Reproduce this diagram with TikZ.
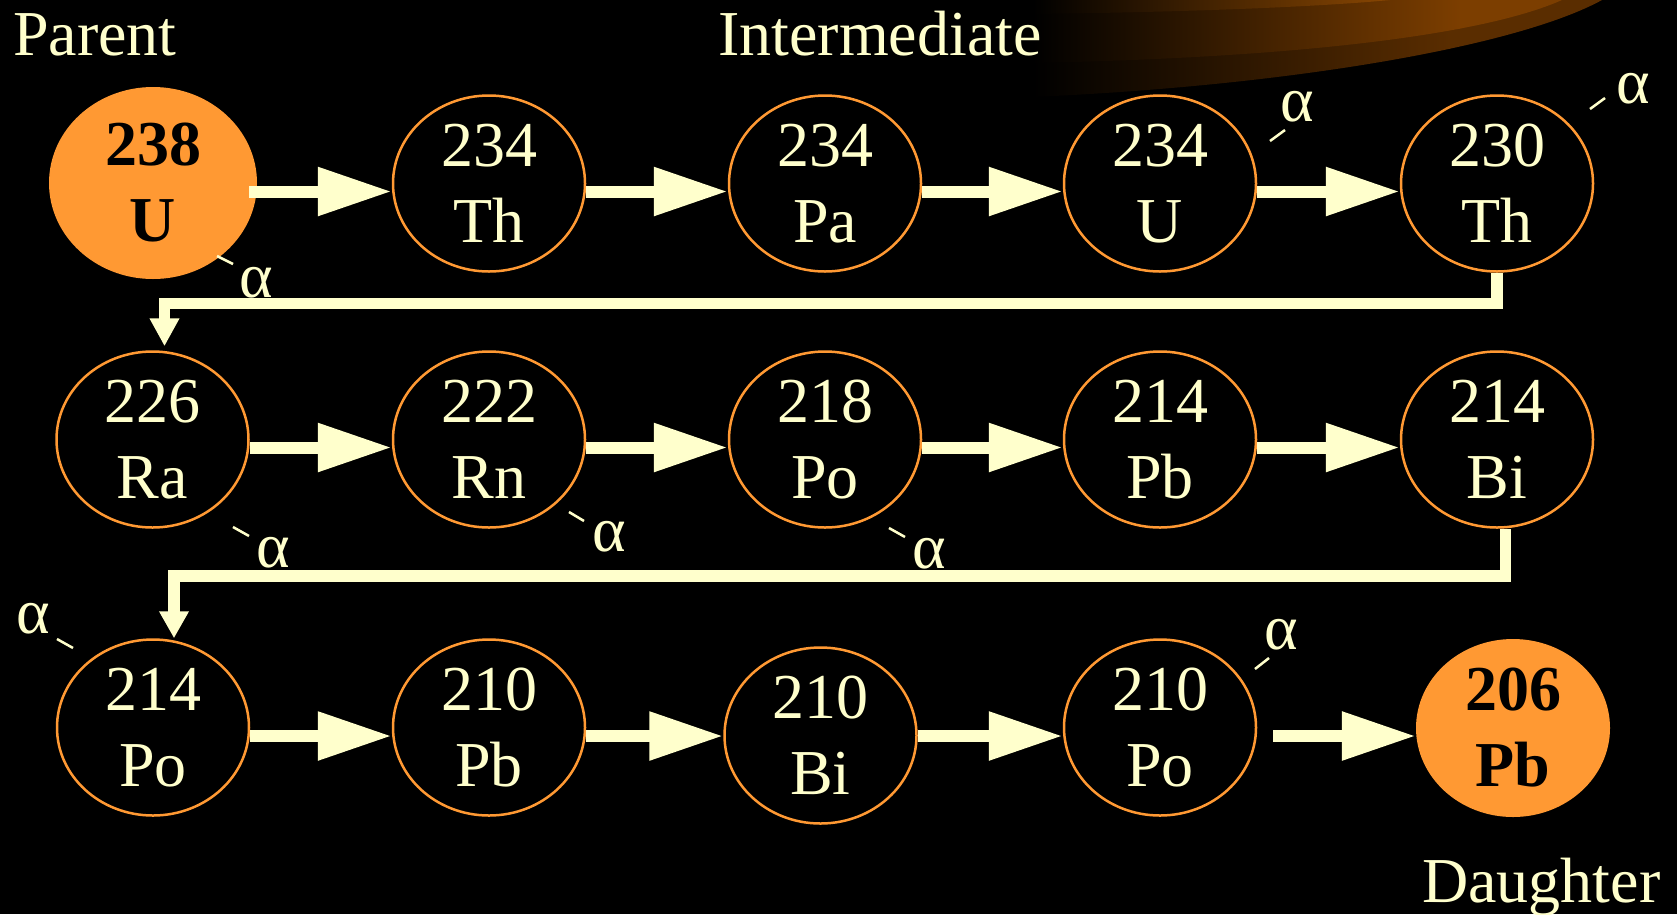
\documentclass[tikz,border=0pt]{standalone}
\usepackage{fontspec}
\setmainfont{Liberation Serif}
\usetikzlibrary{arrows.meta,shapes.geometric}
\definecolor{cream}{HTML}{FFFFCC}
\definecolor{orng}{HTML}{FF9933}
\definecolor{bandA}{RGB}{90,45,0}
\definecolor{bandB}{RGB}{124,62,0}
\definecolor{bandC}{RGB}{140,72,2}
\begin{document}
\begin{tikzpicture}[x=1pt,y=-1pt,
  iso/.style={ellipse, draw=orng, line width=2.5pt, text=cream, minimum width=192pt, minimum height=176pt, inner sep=0pt, align=center, font=\rmfamily\fontsize{64pt}{76pt}\selectfont},
  endiso/.style={ellipse, fill=orng, text=black, inner sep=0pt, align=center, font=\rmfamily\fontsize{64pt}{76pt}\selectfont\bfseries},
  lbl/.style={text=cream, inner sep=0pt, font=\rmfamily\fontsize{64pt}{76pt}\selectfont},
  alab/.style={text=cream, inner sep=0pt, font=\rmfamily\fontsize{64pt}{76pt}\selectfont},
  ticklne/.style={draw=cream, line width=2.5pt},
  fat/.style={draw=cream, line width=12pt, -{Triangle[length=74pt,width=46pt]}},
  turn/.style={draw=cream, line width=11.5pt, line join=miter}
]
\fill[black] (0,0) rectangle (1677,914);
\useasboundingbox (0,0) rectangle (1677,914);

% decorative swoosh
\begin{scope}
\clip (1033,0) -- (1033,97) .. controls (1300,85) and (1520,45) .. (1602,0) -- cycle;
\shade[left color=black, right color=bandA] (1033,0) rectangle (1450,100);
\fill[bandA] (1449,0) rectangle (1677,100);
\end{scope}
\begin{scope}
\clip (1033,0) -- (1033,63) .. controls (1320,57) and (1490,32) .. (1562,0) -- cycle;
\shade[left color=black, right color=bandB] (1033,0) rectangle (1460,100);
\fill[bandB] (1459,0) rectangle (1677,100);
\end{scope}
\begin{scope}
\clip (1033,0) -- (1033,14) .. controls (1200,12) and (1330,6) .. (1390,0) -- cycle;
\shade[left color=black, right color=bandC] (1033,0) rectangle (1400,100);
\fill[bandC] (1399,0) rectangle (1677,100);
\end{scope}

% labels
\node[lbl, anchor=base west] (parent) at (13,55) {Parent};
\node[lbl, anchor=base west] (inter) at (718,55) {Intermediate};
\node[lbl, anchor=base west] (daught) at (1422,902) {Daughter};

% row 1
\node[endiso, minimum width=208pt, minimum height=192pt] (u238) at (153,183) {238\\U};
\node[iso] (th234) at (489,183.5) {234\\Th};
\node[iso] (pa234) at (825,183.5) {234\\Pa};
\node[iso] (u234) at (1160,183.5) {234\\U};
\node[iso] (th230) at (1497,183.5) {230\\Th};
% row 2
\node[iso] (ra226) at (152.5,439.5) {226\\Ra};
\node[iso] (rn222) at (489,439.5) {222\\Rn};
\node[iso] (po218) at (825,439.5) {218\\Po};
\node[iso] (pb214) at (1160,439.5) {214\\Pb};
\node[iso] (bi214) at (1497,439.5) {214\\Bi};
% row 3
\node[iso] (po214) at (153,727.5) {214\\Po};
\node[iso] (pb210) at (489,727.5) {210\\Pb};
\node[iso] (bi210) at (820.5,735.5) {210\\Bi};
\node[iso] (po210) at (1160,727.5) {210\\Po};
\node[endiso, minimum width=194pt, minimum height=178pt] (pb206) at (1513,728) {206\\Pb};

% horizontal arrows
\draw[fat] ([xshift=-8pt,yshift=-8.5pt]u238.east) -- ([yshift=-8pt]th234.west);
\draw[fat] ([yshift=-8pt]th234.east) -- ([yshift=-8pt]pa234.west);
\draw[fat] ([yshift=-8pt]pa234.east) -- ([yshift=-8pt]u234.west);
\draw[fat] ([yshift=-8pt]u234.east) -- ([yshift=-8pt]th230.west);
\draw[fat] ([yshift=-8pt]ra226.east) -- ([yshift=-8pt]rn222.west);
\draw[fat] ([yshift=-8pt]rn222.east) -- ([yshift=-8pt]po218.west);
\draw[fat] ([yshift=-8pt]po218.east) -- ([yshift=-8pt]pb214.west);
\draw[fat] ([yshift=-8pt]pb214.east) -- ([yshift=-8pt]bi214.west);
\draw[fat] ([yshift=-8.5pt]po214.east) -- ([yshift=-8.5pt]pb210.west);
\draw[fat] ([yshift=-8.5pt]pb210.east) -- ([yshift=-0.5pt]bi210.west);
\draw[fat] ([yshift=-0.5pt]bi210.east) -- ([yshift=-8.5pt]po210.west);
\draw[fat] ([xshift=16pt,yshift=-8.5pt]po210.east) -- ([yshift=-8pt]pb206.west);

% row-change connectors
\coordinate (k1) at (164.5,303.5);
\draw[turn, -{Triangle[length=28pt,width=28pt]}, shorten >=4pt] (th230.south) |- (k1) -- (k1 |- ra226.north);
\coordinate (k2) at (174,576);
\draw[turn, -{Triangle[length=27pt,width=28pt]}] ([xshift=8.5pt]bi214.south) |- (k2) -- (k2 |- po214.north);

% alpha labels with ticks
\node[alab] (a1) at (256,283) {α};
\draw[ticklne] (217,256) -- (233,264);
\node[alab] (a2) at (1297,107) {α};
\draw[ticklne] (1270,141) -- (1285,130);
\node[alab] (a3) at (1633,89) {α};
\draw[ticklne] (1590,109) -- (1605,98);
\node[alab] (a4) at (273,553) {α};
\draw[ticklne] (233,527) -- (249,536);
\node[alab] (a5) at (609,537) {α};
\draw[ticklne] (569,512) -- (584,521);
\node[alab] (a6) at (929,554) {α};
\draw[ticklne] (889,528) -- (905,537);
\node[alab] (a7) at (33,619) {α};
\draw[ticklne] (57,639) -- (73,648);
\node[alab] (a8) at (1281,635) {α};
\draw[ticklne] (1255,669) -- (1269,658);
\end{tikzpicture}
\end{document}
